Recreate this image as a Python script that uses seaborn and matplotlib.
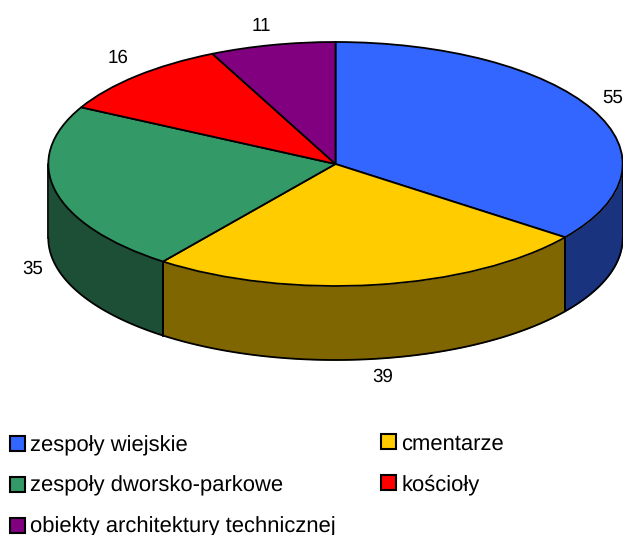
import numpy as np
import matplotlib
matplotlib.use('Agg')
import matplotlib.pyplot as plt
from matplotlib.patches import Patch
import seaborn as sns

categories = ['zespoły wiejskie', 'cmentarze', 'zespoły dworsko-parkowe', 'kościoły',
              'obiekty architektury technicznej']
values = [55, 39, 35, 16, 11]
top_colors = ['#3366FF', '#FFCC00', '#339966', '#FF0000', '#800080']
side_colors = ['#1A337F', '#806600', '#1C4F36', '#800000', '#400040']

W, H = 623, 535
CX, CY = 335.5, 164
RX, RY = 287.2, 122
DEPTH = 74 / RY

sns.set_theme(style='white')
plt.rcParams['font.family'] = ['Liberation Sans', 'DejaVu Sans']
plt.rcParams['text.hinting'] = 'none'
plt.rcParams['text.color'] = 'black'

fig = plt.figure(figsize=(W / 100, H / 100), dpi=100)
ax = fig.add_axes([0, 0, 1, 1])


def px(x, y):
    # picture pixels -> unit circle coordinates of the pie
    return (x - CX) / RX, (CY - y) / RY


ax.pie(values, colors=top_colors, startangle=90, counterclock=False, radius=1,
       wedgeprops={'edgecolor': 'black', 'linewidth': 1.3, 'zorder': 3})
ax.set_aspect('auto')
ax.set_xlim(px(0, 0)[0], px(W, 0)[0])
ax.set_ylim(px(0, H)[1], px(0, 0)[1])

# side wall, only the front half of the cylinder shows
edges = 90 - np.cumsum([0] + values) / sum(values) * 360
for start, stop, color in zip(edges[:-1], edges[1:], side_colors):
    lo, hi = max(stop, -180), min(start, 0)
    if lo >= hi:
        continue
    t = np.radians(np.linspace(lo, hi, 120))
    ax.fill_between(np.cos(t), np.sin(t) - DEPTH, np.sin(t), color=color, lw=0, zorder=1)
    ax.plot(np.cos(t), np.sin(t) - DEPTH, color='black', lw=1.3, zorder=2)
    for a in (lo, hi):
        r = np.radians(a)
        ax.plot([np.cos(r)] * 2, [np.sin(r), np.sin(r) - DEPTH], color='black', lw=1.3, zorder=2)

label_pos = [(613, 98), (383, 377), (33, 269), (118, 58), (261, 26)]
for v, (x, y) in zip(values, label_pos):
    ax.text(*px(x, y), str(v), ha='center', va='center', fontsize=13.5, color='black')


def add_legend(idx, left, top):
    handles = [Patch(facecolor=top_colors[i], edgecolor='black', linewidth=1.5) for i in idx]
    fig.legend(handles, [categories[i] for i in idx], frameon=False, fontsize=15.8,
               loc='upper left', bbox_to_anchor=(left / W, 1 - top / H), borderpad=0,
               borderaxespad=0, handlelength=0.68, handleheight=0.68, handletextpad=0.24,
               labelspacing=0.93)


# two separate columns so both can be lined up with the rows of the original
add_legend([0, 2, 4], 10, 435)
add_legend([1, 3], 381, 433.5)

fig.savefig('out.png', dpi=100)
